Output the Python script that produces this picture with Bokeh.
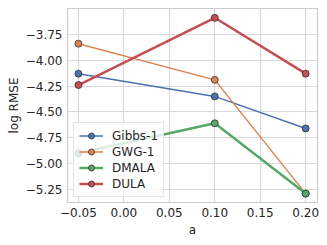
from bokeh.plotting import figure
from bokeh.models import FixedTicker, Legend, LegendItem, Range1d
from bokeh.embed import file_html
from bokeh.resources import INLINE

a_vals = [-0.05, 0.10, 0.20]
gibbs = [-4.13, -4.35, -4.66]
gwg = [-3.84, -4.19, -5.29]
dmala = [-4.90, -4.61, -5.29]
dula = [-4.24, -3.59, -4.13]

series_names = ["Gibbs-1", "GWG-1", "DMALA", "DULA"]
series_vals = [gibbs, gwg, dmala, dula]
colors = ["#4C72B0", "#DD8452", "#55A868", "#C44E52"]
widths = [1.5, 1.5, 2.5, 2.5]

x_ticks = [-0.05, 0.0, 0.05, 0.10, 0.15, 0.20]
x_labels = ["\u22120.05", "0.00", "0.05", "0.10", "0.15", "0.20"]
y_ticks = [-5.25, -5.0, -4.75, -4.5, -4.25, -4.0, -3.75]
y_labels = ["\u22125.25", "\u22125.00", "\u22124.75", "\u22124.50", "\u22124.25", "\u22124.00", "\u22123.75"]

p = figure(width=327, height=245, output_backend="svg", toolbar_location=None,
           x_range=Range1d(-0.062, 0.213), y_range=Range1d(-5.376, -3.50),
           min_border_left=67, min_border_right=10, min_border_top=8, min_border_bottom=43)

p.background_fill_color = "white"
p.border_fill_color = "white"
p.outline_line_color = "#cccccc"
p.outline_line_width = 1.2

for ax in [p.xaxis[0], p.yaxis[0]]:
    ax.axis_line_color = None
    ax.major_tick_line_color = None
    ax.minor_tick_line_color = None
    ax.major_tick_out = 0
    ax.major_tick_in = 0
    ax.minor_tick_out = 0
    ax.minor_tick_in = 0
    ax.major_label_text_font = "DejaVu Sans"
    ax.major_label_text_font_size = "12px"
    ax.major_label_text_color = "#262626"
    ax.axis_label_text_font = "DejaVu Sans"
    ax.axis_label_text_font_size = "12px"
    ax.axis_label_text_font_style = "normal"
    ax.axis_label_text_color = "#262626"

p.xaxis.ticker = FixedTicker(ticks=x_ticks)
p.xaxis.major_label_overrides = {t: l for t, l in zip(x_ticks, x_labels)}
p.yaxis.ticker = FixedTicker(ticks=y_ticks)
p.yaxis.major_label_overrides = {t: l for t, l in zip(y_ticks, y_labels)}
p.xaxis.axis_label = "a"
p.yaxis.axis_label = "log RMSE"
p.xaxis.major_label_standoff = 5
p.yaxis.major_label_standoff = 5
p.xaxis.axis_label_standoff = 3
p.yaxis.axis_label_standoff = 2

p.xgrid.grid_line_color = "#d9d9d9"
p.ygrid.grid_line_color = "#d9d9d9"
p.xgrid.grid_line_width = 1.2
p.ygrid.grid_line_width = 1.2

items = []
for name, vals, c, w in zip(series_names, series_vals, colors, widths):
    l = p.line(a_vals, vals, line_color=c, line_width=w)
    s = p.scatter(a_vals, vals, size=7, fill_color=c, line_color="#333333", line_width=0.8)
    items.append(LegendItem(label=name, renderers=[l, s]))

legend = Legend(items=items, location=(6, 5), glyph_width=24, glyph_height=15,
                label_height=15, spacing=1, padding=5, margin=0,
                label_text_font="DejaVu Sans", label_text_font_size="12px",
                label_text_color="#262626", label_standoff=9,
                background_fill_alpha=0.8, border_line_color="#cccccc")
p.add_layout(legend, "center")

open("out.html", "w").write(file_html(p, INLINE))
